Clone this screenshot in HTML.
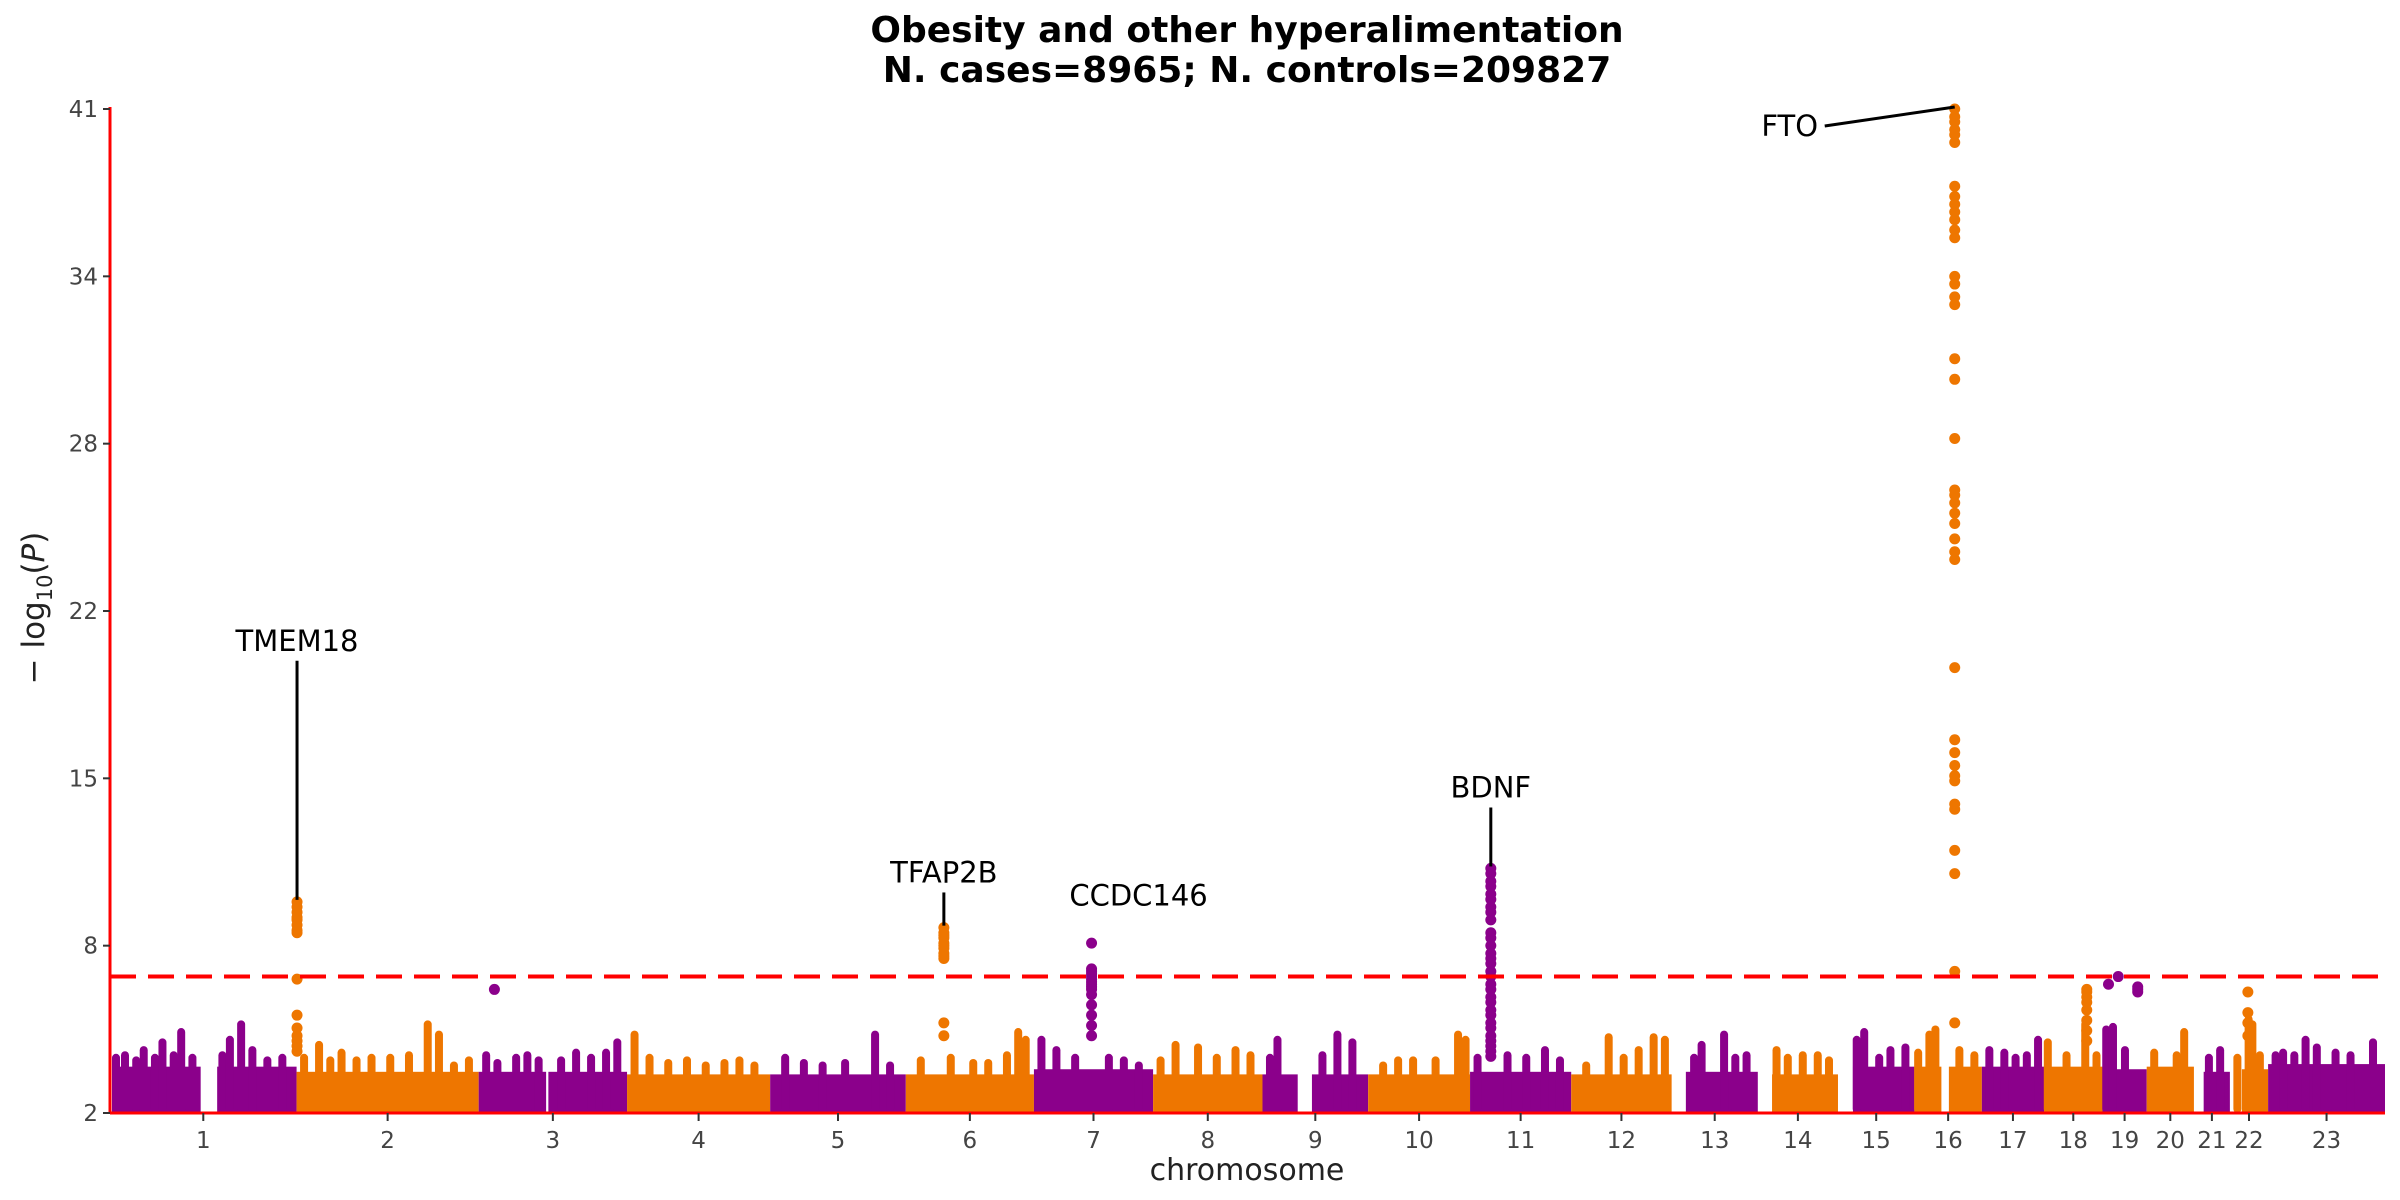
<!DOCTYPE html>
<html><head><meta charset="utf-8"><title>Manhattan plot</title>
<style>
html,body{margin:0;padding:0;background:#fff;}
svg{display:block;font-family:"Liberation Sans","DejaVu Sans",sans-serif;}
</style></head>
<body>
<svg id="chart" width="2400" height="1200" viewBox="0 0 2400 1200" xmlns="http://www.w3.org/2000/svg">
<text x="1247" y="42" text-anchor="middle" font-size="36" font-weight="bold" font-family="DejaVu Sans, sans-serif">Obesity and other hyperalimentation</text>
<text x="1247" y="82" text-anchor="middle" font-size="36" font-weight="bold" font-family="DejaVu Sans, sans-serif">N. cases=8965; N. controls=209827</text>
<g id="plot"></g>
<text x="1247" y="1180" text-anchor="middle" font-size="30" fill="#222" font-family="DejaVu Sans, sans-serif">chromosome</text>
<text transform="translate(44,608) rotate(-90)" text-anchor="middle" font-size="31" fill="#222" font-family="DejaVu Sans, sans-serif">− log<tspan font-size="21" dy="8">10</tspan><tspan dy="-8">(</tspan><tspan font-style="italic">P</tspan>)</text>
</svg>
<script>
// ---- data ----
const chromLabels = ["1","2","3","4","5","6","7","8","9","10","11","12","13","14","15","16","17","18","19","20","21","22","23"];
const chromLengths = [249,243,198,191,181,171,159,146,141,136,135,134,115,107,102,90,83,78,59,63,48,51,156];
const bandTop = [3.8,3.6,3.6,3.5,3.5,3.5,3.7,3.5,3.5,3.5,3.6,3.5,3.6,3.5,3.8,3.8,3.8,3.8,3.7,3.8,3.6,3.7,3.9];
// gaps: [chromIndex, startMb, endMb]
const gaps = [[0,121,143],[8,47,66],[12,0,19],[13,0,19],[14,0,20],[15,36,46],[20,0,13],[21,0,16],[2,90,93]];
// spikes of dense SNPs: [chromIndex, Mb, topValue]
const spikes = [[0,5,4.3],[0,20,4.4],[0,35,4.2],[0,45,4.6],[0,60,4.3],[0,70,4.9],[0,85,4.4],[0,95,5.3],[0,110,4.3],[0,150,4.4],[0,160,5.0],[0,175,5.6],[0,190,4.6],[0,210,4.2],[0,230,4.3],
[1,10,4.3],[1,30,4.8],[1,45,4.2],[1,60,4.5],[1,80,4.2],[1,100,4.3],[1,125,4.3],[1,150,4.4],[1,175,5.6],[1,190,5.2],[1,210,4.0],[1,230,4.2],
[2,10,4.4],[2,25,4.1],[2,50,4.3],[2,65,4.4],[2,80,4.2],[2,110,4.2],[2,130,4.5],[2,150,4.3],[2,170,4.5],[2,185,4.9],
[3,10,5.2],[3,30,4.3],[3,55,4.1],[3,80,4.2],[3,105,4.0],[3,130,4.1],[3,150,4.2],[3,170,4.0],
[4,20,4.3],[4,45,4.1],[4,70,4.0],[4,100,4.1],[4,140,5.2],[4,160,4.0],
[5,20,4.2],[5,60,4.3],[5,90,4.1],[5,110,4.1],[5,135,4.4],[5,150,5.3],[5,160,5.0],
[6,10,5.0],[6,30,4.6],[6,55,4.3],[6,100,4.3],[6,120,4.2],[6,140,4.0],
[7,10,4.2],[7,30,4.8],[7,60,4.7],[7,85,4.3],[7,110,4.6],[7,130,4.4],
[8,10,4.3],[8,20,5.0],[8,80,4.4],[8,100,5.2],[8,120,4.9],
[9,20,4.0],[9,40,4.2],[9,60,4.2],[9,90,4.2],[9,120,5.2],[9,130,5.0],
[10,10,4.3],[10,50,4.4],[10,75,4.3],[10,100,4.6],[10,120,4.2],
[11,20,4.0],[11,50,5.1],[11,70,4.3],[11,90,4.6],[11,110,5.1],[11,125,5.0],
[12,30,4.3],[12,40,4.8],[12,70,5.2],[12,85,4.3],[12,100,4.4],
[13,25,4.6],[13,40,4.3],[13,60,4.4],[13,80,4.4],[13,95,4.2],
[14,25,5.0],[14,35,5.3],[14,55,4.3],[14,70,4.6],[14,90,4.7],
[15,5,4.5],[15,20,5.2],[15,28,5.4],[15,60,4.6],[15,80,4.4],
[16,10,4.6],[16,30,4.5],[16,45,4.3],[16,60,4.4],[16,75,5.0],
[17,5,4.9],[17,30,4.4],[17,55,5.6],[17,70,4.4],
[18,5,5.4],[18,14,5.5],[18,30,4.6],
[19,10,4.5],[19,40,4.4],[19,50,5.3],
[20,20,4.3],[20,35,4.6],
[21,10,4.3],[21,25,5.8],[21,30,5.6],[21,40,4.4],
[22,10,4.4],[22,20,4.5],[22,35,4.4],[22,50,5.0],[22,65,4.7],[22,90,4.5],[22,110,4.4],[22,140,4.9]];
// significant loci: chromosome index, position (Mb), and -log10(P) values of SNPs
const locusChrom = [1,5,6,10,15,2,17,18,18,18,21];
const locusMb = [0.6,50.8,76.9,27.7,53.8,21,57,8,21,47,24];
const locusValues = [
 [10.2,10.0,9.8,9.6,9.5,9.3,9.1,9.0,7.2,5.8,5.3,5.0,4.8,4.6,4.4],
 [9.2,9.0,8.9,8.8,8.6,8.5,8.4,8.2,8.1,8.0,5.5,5.0],
 [8.6,7.6,7.5,7.4,7.3,7.2,7.1,7.0,6.9,6.8,6.6,6.2,5.8,5.4,5.0],
 [11.5,11.3,11.0,10.8,10.5,10.3,10.0,9.8,9.5,9.0,8.8,8.5,8.2,8.0,7.8,7.5,7.3,7.0,6.8,6.5,6.3,6.0,5.8,5.5,5.3,5.0,4.8,4.6,4.4,4.2],
 [41.0,40.7,40.5,40.2,40.0,39.7,38.0,37.6,37.3,37.0,36.7,36.3,36.0,34.5,34.2,33.7,33.4,31.3,30.5,28.2,26.2,26.0,25.7,25.3,24.9,24.3,23.8,23.5,19.3,16.5,16.0,15.5,15.1,14.9,14.0,13.8,12.2,11.3,7.5,5.5],
 [6.8],
 [6.8,6.7,6.5,6.3,6.0,5.6,5.2,4.8],
 [7.0],
 [7.3],
 [6.9,6.8,6.7],
 [6.7,5.9,5.5,5.0]
];
const annoNames = ["TMEM18","TFAP2B","CCDC146","BDNF","FTO"];
const annoChrom = [1,5,6,10,15];
const annoMb = [0.6,50.8,76.9,27.7,53.8];
const annoPeak = [10.2,9.2,8.6,11.5,41.0];
const yTickVals = [2,8.5,15,21.5,28,34.5,41];
const yTickLabels = ["2","8","15","22","28","34","41"];
const threshold = 7.3;

// ---- scales ----
const X0=110, X1=2385, Y0=1113, Y1=109, YMIN=2, YMAX=41;
const starts=[]; let tot=0; chromLengths.forEach(l=>{starts.push(tot);tot+=l;});
const xs = (c,mb)=>X0+(starts[c]+mb)/tot*(X1-X0);
const ys = v=>Y0-(v-YMIN)/(YMAX-YMIN)*(Y0-Y1);
const colors=["#8B008B","#EE7600"];
const NS="http://www.w3.org/2000/svg";
const plot=document.getElementById('plot');
function mk(tag,attrs,parent){const e=document.createElementNS(NS,tag);for(const k in attrs)e.setAttribute(k,attrs[k]);(parent||plot).appendChild(e);return e;}

chromLengths.forEach((len,c)=>{
  const g=mk('g',{});
  
  
  const col=colors[c%2];
  let segs=[[0,len]];
  gaps.filter(gp=>gp[0]===c).forEach(gp=>{
    const ns=[];segs.forEach(s=>{
      if(gp[2]<=s[0]||gp[1]>=s[1]){ns.push(s);return;}
      if(gp[1]>s[0])ns.push([s[0],gp[1]]);
      if(gp[2]<s[1])ns.push([gp[2],s[1]]);
    });segs=ns;});
  segs.forEach(s=>{
    const x1=Math.max(X0+2,xs(c,s[0])),x2=Math.min(X1,xs(c,s[1]));
    const r=mk('rect',{x:x1,y:ys(bandTop[c]),width:Math.max(0,x2-x1),height:Y0-ys(bandTop[c]),fill:col},g);
    
    
  });
  spikes.filter(s=>s[0]===c).forEach(s=>{
    const x=Math.max(X0+6,Math.min(X1-4,xs(c,s[1])));
    const p=mk('rect',{x:x-4,y:ys(s[2]),width:8,height:Y0-ys(s[2]),rx:4,fill:col},g);
    
    
  });
});
locusValues.forEach((vals,k)=>{
  const c=locusChrom[k];
  const x=xs(c,locusMb[k]);
  vals.forEach(v=>{
    const d=mk('circle',{cx:x,cy:ys(v),r:5.5,fill:colors[c%2]});
    
    
  });
});
const th=mk('line',{x1:X0,x2:X1,y1:ys(threshold),y2:ys(threshold),stroke:'#FF0000','stroke-width':4,'stroke-dasharray':'26 12'});


const ya=mk('line',{x1:X0,x2:X0,y1:Y1-2,y2:Y0,stroke:'#FF0000','stroke-width':3});


const xa=mk('line',{x1:X0,x2:X1,y1:Y0,y2:Y0,stroke:'#FF0000','stroke-width':3});


yTickVals.forEach((v,i)=>{
  const y=ys(v);
  const t=mk('line',{x1:X0-7,x2:X0,y1:y,y2:y,stroke:'#333','stroke-width':2});
  
  
  const l=mk('text',{x:X0-12,y:y+8,'text-anchor':'end','font-size':23,fill:'#444','font-family':'DejaVu Sans, sans-serif'});
  l.textContent=yTickLabels[i];
  
  
});
chromLabels.forEach((lab,c)=>{
  const x=xs(c,chromLengths[c]/2);
  const t=mk('line',{x1:x,x2:x,y1:Y0,y2:Y0+8,stroke:'#333','stroke-width':2});
  
  
  const l=mk('text',{x:x,y:Y0+35,'text-anchor':'middle','font-size':23,fill:'#444','font-family':'DejaVu Sans, sans-serif'});
  l.textContent=lab;
  
  
});
const annoRise=[9.6,1.6,1.3,2.6,0];
annoNames.forEach((n,i)=>{
  const px=xs(annoChrom[i],annoMb[i]), py=ys(annoPeak[i]);
  let tx,ty,lx1,ly1;
  if(i===4){tx=px-165;ty=py+27;lx1=px-130;ly1=py+17;}
  else{tx=(i===2?px+47:px);ty=ys(annoPeak[i]+annoRise[i])-4;lx1=px;ly1=ty+10;}
  if(i!==2){
    const ln=mk('line',{x1:lx1,y1:ly1,x2:px,y2:py-2,stroke:'#000','stroke-width':3});
    
    
  }
  const t=mk('text',{x:tx,y:ty,'text-anchor':'middle','font-size':29,fill:'#000','font-family':'DejaVu Sans, sans-serif'});
  t.textContent=n;
  
  
});
</script>
</body></html>
